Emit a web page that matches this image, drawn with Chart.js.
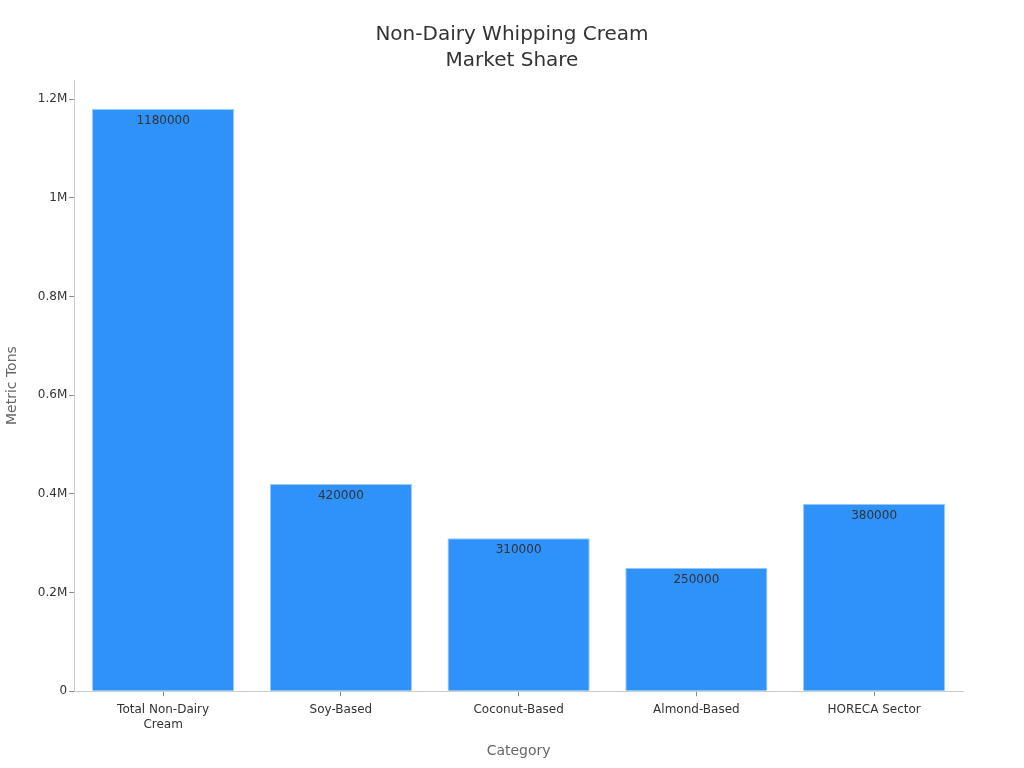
<!DOCTYPE html>
<html>
<head>
<meta charset="utf-8">
<script src="https://cdn.jsdelivr.net/npm/chart.js@4/dist/chart.umd.min.js"></script>
<style>
  html, body { margin: 0; padding: 0; background: #fff; }
  #market-chart { display: block; }
</style>
</head>
<body>
<canvas id="market-chart" width="1024" height="768"></canvas>
<script>
const categories = [['Total Non-Dairy', 'Cream'], 'Soy-Based', 'Coconut-Based', 'Almond-Based', 'HORECA Sector'];
const metricTons = [1180000, 420000, 310000, 250000, 380000];
const yTicks = [0, 200000, 400000, 600000, 800000, 1000000, 1200000];

Chart.defaults.font.family = '"DejaVu Sans", sans-serif';
Chart.defaults.color = '#333';

// draws the value just inside the top of each bar
const barValueLabels = {
  id: 'barValueLabels',
  afterDatasetsDraw(chart) {
    const ctx = chart.ctx;
    const meta = chart.getDatasetMeta(0);
    ctx.save();
    ctx.font = '12px "DejaVu Sans", sans-serif';
    ctx.fillStyle = '#333';
    ctx.textAlign = 'center';
    ctx.textBaseline = 'top';
    meta.data.forEach((bar, i) => {
      ctx.fillText(String(metricTons[i]), bar.x, bar.y + 6);
    });
    ctx.restore();
  }
};

const fmtTick = (v) => {
  if (v === 0) return '0';
  const m = v / 1000000;
  return (Math.round(m * 10) / 10) + 'M';
};

new Chart(document.getElementById('market-chart').getContext('2d'), {
  type: 'bar',
  data: {
    labels: categories,
    datasets: [{
      label: 'Metric Tons',
      data: metricTons,
      backgroundColor: '#2e92fa',
      borderColor: '#9ccbf8',
      borderWidth: 1,
      barPercentage: 0.8,
      categoryPercentage: 1
    }]
  },
  options: {
    responsive: false,
    animation: false,
    devicePixelRatio: 1,
    layout: { padding: { left: 0, right: 0, top: 6, bottom: 4 } },
    plugins: {
      legend: { display: false },
      tooltip: { enabled: false },
      title: {
        display: true,
        text: ['Non-Dairy Whipping Cream', 'Market Share'],
        color: '#333',
        font: { size: 20, weight: 'normal', lineHeight: 1.3 },
        padding: { top: 16, bottom: 6 }
      }
    },
    scales: {
      x: {
        grid: { drawOnChartArea: false, offset: false, color: '#888', tickLength: 5 },
        border: { color: '#ccc' },
        ticks: { font: { size: 12, lineHeight: 1.25 }, color: '#333', maxRotation: 0, padding: 6 },
        title: { display: true, text: 'Category', color: '#666', font: { size: 14 }, padding: { top: 5 } }
      },
      y: {
        min: 0,
        max: 1239000,
        afterBuildTicks(axis) { axis.ticks = yTicks.map(v => ({ value: v })); },
        grid: { drawOnChartArea: false, color: '#888', tickLength: 5 },
        border: { color: '#ccc' },
        ticks: { font: { size: 12 }, color: '#333', padding: 2, callback: fmtTick },
        title: { display: true, text: 'Metric Tons', color: '#666', font: { size: 14 }, padding: { bottom: 15 } }
      },
      // empty right-hand gutter so the title stays centred on the page
      gutter: {
        type: 'linear',
        position: 'right',
        display: true,
        grid: { display: false },
        border: { display: false },
        ticks: { display: false },
        afterFit(axis) { axis.width = 61; }
      }
    }
  },
  plugins: [barValueLabels]
});
</script>
</body>
</html>
